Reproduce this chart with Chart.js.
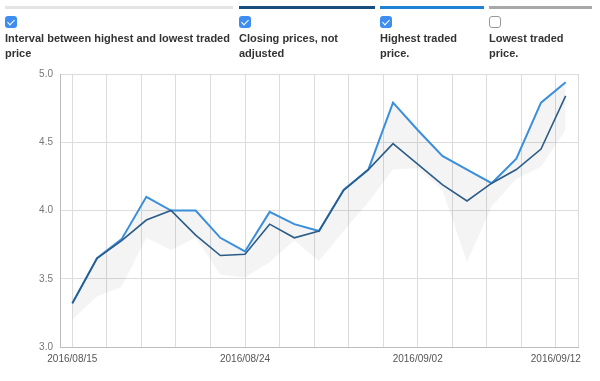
<!DOCTYPE html>
<html>
<head>
<meta charset="utf-8">
<script src="https://cdn.jsdelivr.net/npm/chart.js@4.4.1/dist/chart.umd.min.js"></script>
<style>
  html, body { margin: 0; padding: 0; background: #fff; }
  #wrap { position: relative; width: 600px; height: 381px; overflow: hidden; font-family: "Liberation Sans", Arial, sans-serif; }
  #chart { position: absolute; left: 0; top: 0; }
  .item { position: absolute; top: 6px; }
  .bar { height: 3px; width: 100%; }
  .box { width: 12px; height: 12px; border-radius: 3px; margin-top: 7px; box-sizing: border-box; position: relative; }
  .box.on { background: #3d8ef0; }
  .box.on:after { content: ""; position: absolute; left: 4px; top: 1.5px; width: 3px; height: 6px; border: solid #fff; border-width: 0 1.6px 1.6px 0; transform: rotate(45deg); }
  .box.off { background: #fff; border: 1px solid #999; }
  .txt { font-size: 11px; font-weight: bold; color: #333; line-height: 15px; margin-top: 3px; }
</style>
</head>
<body>
<div id="wrap">
  <canvas id="chart" width="600" height="381"></canvas>
  <div class="item" style="left:5px;width:228px">
    <div class="bar" style="background:#e4e4e4"></div>
    <div class="box on"></div>
    <div class="txt">Interval between highest and lowest traded price</div>
  </div>
  <div class="item" style="left:239px;width:136px">
    <div class="bar" style="background:#174e7e"></div>
    <div class="box on"></div>
    <div class="txt">Closing prices, not adjusted</div>
  </div>
  <div class="item" style="left:380px;width:104px">
    <div class="bar" style="background:#1f82d4"></div>
    <div class="box on"></div>
    <div class="txt">Highest traded price.</div>
  </div>
  <div class="item" style="left:489px;width:103px">
    <div class="bar" style="background:#a8a8a8"></div>
    <div class="box off"></div>
    <div class="txt">Lowest traded price.</div>
  </div>
</div>
<script>
// trading days
var dates = ['2016/08/15','2016/08/16','2016/08/17','2016/08/18','2016/08/19',
             '2016/08/22','2016/08/23','2016/08/24','2016/08/25','2016/08/26',
             '2016/08/29','2016/08/30','2016/08/31','2016/09/01','2016/09/02',
             '2016/09/05','2016/09/06','2016/09/07','2016/09/08','2016/09/09',
             '2016/09/12'];
var closePrice = [3.32, 3.65, 3.78, 3.93, 4.00, 3.82, 3.67, 3.68, 3.90, 3.80,
                  3.85, 4.15, 4.30, 4.49, 4.34, 4.19, 4.07, 4.20, 4.30, 4.45, 4.84];
var highPrice  = [3.32, 3.65, 3.79, 4.10, 4.00, 4.00, 3.80, 3.70, 3.99, 3.90,
                  3.85, 4.15, 4.30, 4.79, 4.59, 4.40, 4.30, 4.20, 4.38, 4.79, 4.94];
var lowPrice   = [3.20, 3.37, 3.44, 3.80, 3.71, 3.80, 3.53, 3.51, 3.62, 3.78,
                  3.63, 3.85, 4.06, 4.30, 4.31, 4.15, 3.62, 4.03, 4.23, 4.32, 4.59];
var tickLabels = ['2016/08/15', '2016/08/24', '2016/09/02', '2016/09/12'];

function pts(arr) {
    return arr.map(function (v, i) { return { x: i, y: v }; });
}

// vertical grid every 1.4 trading days, labels on every 5th line
var gridVals = [];
for (var g = 0; g < 15; g++) gridVals.push(Math.round(g * 1.4 * 10) / 10);
gridVals.push(20.5);

var m_chart = new Chart(document.getElementById('chart'), {
    type: 'line',
    data: {
        datasets: [
            {
                label: 'Closing prices, not adjusted',
                data: pts(closePrice),
                borderColor: '#2b5c88',
                borderWidth: 1.6,
                pointRadius: 0,
                fill: false
            },
            {
                label: 'Highest traded price.',
                data: pts(highPrice),
                borderColor: '#3a8fdc',
                borderWidth: 2,
                pointRadius: 0,
                fill: false
            },
            {
                label: 'Interval between highest and lowest traded price',
                data: pts(lowPrice),
                borderWidth: 0,
                borderColor: 'rgba(0,0,0,0)',
                backgroundColor: 'rgba(0,0,0,0.045)',
                pointRadius: 0,
                fill: '-1'
            }
        ]
    },
    options: {
        responsive: false,
        animation: false,
        layout: { padding: { left: 0, top: 74, right: 22, bottom: 0 } },
        plugins: {
            legend: { display: false },
            tooltip: { enabled: false }
        },
        scales: {
            x: {
                type: 'linear',
                min: -0.5,
                max: 20.5,
                afterFit: function (s) { s.height = 34; },
                afterBuildTicks: function (s) {
                    s.ticks = gridVals.map(function (v) { return { value: v }; });
                },
                ticks: {
                    autoSkip: false,
                    maxRotation: 0,
                    padding: 6,
                    color: '#555',
                    font: { family: 'Liberation Sans', size: 10 },
                    callback: function (v) {
                        var k = [0, 7, 14, 19.6].indexOf(Math.round(v * 10) / 10);
                        return k >= 0 ? tickLabels[k] : '';
                    }
                },
                grid: { color: '#dcdcdc', drawTicks: false },
                border: { color: '#bdbdbd' }
            },
            y: {
                min: 3.0,
                max: 5.0,
                afterFit: function (s) { s.width = 60; },
                ticks: {
                    stepSize: 0.5,
                    padding: 7,
                    color: '#777',
                    font: { family: 'Liberation Sans', size: 10 },
                    callback: function (v) { return v.toFixed(1); }
                },
                grid: { color: '#dcdcdc', drawTicks: false },
                border: { color: '#bdbdbd' }
            }
        }
    }
});
</script>
</body>
</html>
